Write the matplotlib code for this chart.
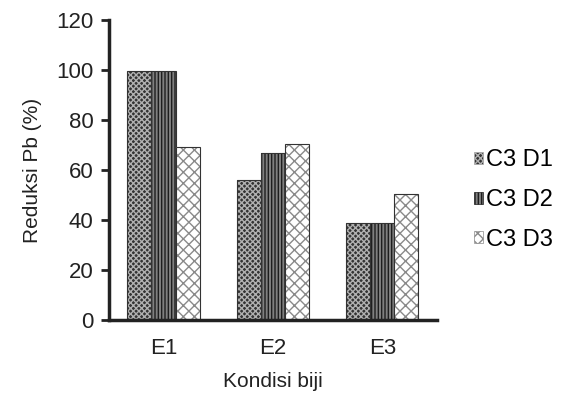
import matplotlib
matplotlib.use('Agg')
import matplotlib.pyplot as plt
from matplotlib.patches import Patch
import numpy as np

categories = ['E1', 'E2', 'E3']
series = ['C3 D1', 'C3 D2', 'C3 D3']
d1 = [99.5, 56.0, 38.8]
d2 = [99.5, 67.0, 38.8]
d3 = [69.2, 70.4, 50.6]

plt.rcParams['font.family'] = ['Liberation Sans', 'DejaVu Sans']
plt.rcParams['hatch.linewidth'] = 1.0

styles = [
    dict(facecolor='#333333', hatch='xxxxxx', edgecolor='#b0b0b0'),
    dict(facecolor='#808080', hatch='|||||', edgecolor='#1e1e1e'),
    dict(facecolor='white', hatch='xxx', edgecolor='#8a8a8a'),
]

fig = plt.figure(figsize=(5.61, 4.0), dpi=100)
ax = fig.add_axes([0.194, 0.2, 0.585, 0.75])

x = np.arange(len(categories))
width = 0.22
for i, vals in enumerate([d1, d2, d3]):
    pos = x + (i - 1) * width
    ax.bar(pos, vals, width, linewidth=0, **styles[i])
    # dark outline around each bar
    ax.bar(pos, vals, width, facecolor='none', edgecolor='#333333', linewidth=0.8)

ax.set_xlim(-0.5, 2.5)
ax.set_ylim(0, 120)
ax.set_yticks(np.arange(0, 121, 20))
ax.set_xticks(x)
ax.set_xticklabels(categories)
ax.tick_params(axis='x', length=0, pad=13, labelsize=16, colors='#222222')
ax.tick_params(axis='y', length=6, width=2, pad=5, labelsize=16, colors='#222222')
for s in ['top', 'right']:
    ax.spines[s].set_visible(False)
for s in ['left', 'bottom']:
    ax.spines[s].set_linewidth(2.5)
    ax.spines[s].set_color('#222222')
ax.set_ylabel('Reduksi Pb (%)', fontsize=15, color='#222222', labelpad=10)
ax.set_xlabel('Kondisi biji', fontsize=15, color='#222222', labelpad=9)

handles = [Patch(label=lab, linewidth=0.5, **st) for lab, st in zip(series, styles)]
fig.legend(handles=handles, loc='center left', bbox_to_anchor=(0.807, 0.5),
           frameon=False, fontsize=17, handlelength=0.4, handleheight=0.4,
           handletextpad=0.12, labelspacing=0.75)

fig.savefig('out.png', dpi=100)
